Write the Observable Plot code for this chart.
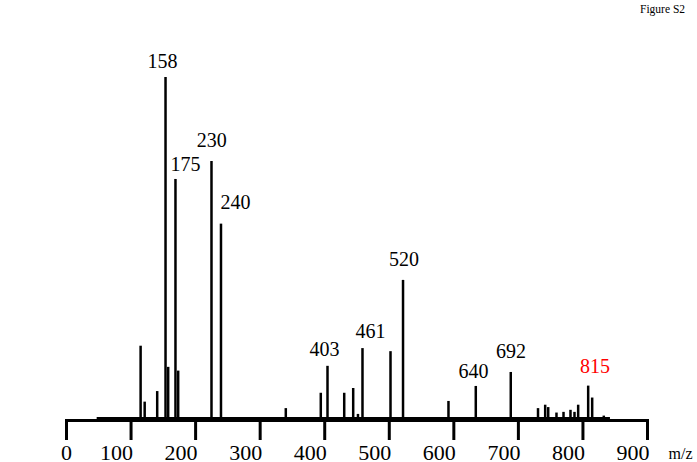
<!DOCTYPE html>
<html>
<head>
<meta charset="utf-8">
<script src="https://cdn.jsdelivr.net/npm/d3@7"></script>
<script src="https://cdn.jsdelivr.net/npm/@observablehq/plot@0.6"></script>
<style>
  html, body { margin: 0; padding: 0; background: #fff; }
  #wrap { position: relative; width: 697px; height: 462px; }
  #fig { position: absolute; left: 640px; top: 3px; font-size: 11.5px; font-family: "Liberation Serif", "Times New Roman", Times, "DejaVu Serif", serif; color: #000; }
  svg text { font-family: "Liberation Serif", "Times New Roman", Times, "DejaVu Serif", serif; }
</style>
</head>
<body>
<div id="wrap"><div id="fig">Figure S2</div></div>
<script>
// Peak positions (m/z) and relative intensities (%)
const peakMz  = [114.8, 121.1, 140.5, 153.4, 157.5, 168.8, 173.0, 224.6, 239.3, 339.7,
                 393.9, 404.3, 430.2, 444.1, 451.5, 458.5, 501.9, 521.3, 591.7, 634.0,
                 688.2, 730.4, 741.5, 746.2, 759.0, 769.9, 780.7, 786.9, 792.6, 808.1,
                 814.3, 832.3];
const peakInt = [21.2, 4.8, 7.9, 100, 15.0, 70.1, 13.9, 75.4, 57.0, 2.9,
                 7.4, 15.3, 7.4, 8.8, 1.2, 20.5, 19.6, 40.5, 5.0, 9.4,
                 13.5, 2.9, 3.9, 3.2, 1.6, 1.8, 2.4, 1.8, 3.9, 9.5,
                 6.0, 0.7];
// Peak annotations: text and anchor point in data units
const labelText = ["158", "175", "230", "240", "403", "461", "520", "640", "692", "815"];
const labelMz   = [148.7, 184.3, 225.1, 261.8, 399.6, 470.9, 522.8, 630.4, 688.5, 818.6];
const labelInt  = [102.9, 72.5, 79.5, 61.3, 18.2, 23.5, 44.6, 12.0, 17.6, 13.2];
const highlighted = "815";
// Spectrum baseline extent (m/z)
const spectrumStart = 47.5, spectrumEnd = 842.6;
// Axis ticks
const tickValues = [0, 100, 200, 300, 400, 500, 600, 700, 800, 900];
const axisLabel = "m/z";

const peaks = peakMz.map((mz, i) => ({mz, int: peakInt[i]}));
const labels = labelText.map((t, i) => ({t, mz: labelMz[i], int: labelInt[i]}));

const serif = "'Liberation Serif', 'Times New Roman', Times, 'DejaVu Serif', serif";
const chart = Plot.plot({
  width: 697,
  height: 462,
  marginLeft: 66,
  marginRight: 50,
  marginTop: 77,
  marginBottom: 42,
  style: {fontFamily: serif, background: "transparent", color: "#000"},
  x: {domain: [0, 900], range: [66, 647]},
  y: {domain: [0, 100], range: [418, 77], axis: null},
  marks: [
    Plot.ruleX(peaks, {x: "mz", y1: 0, y2: "int", strokeWidth: 2.5, stroke: "#000"}),
    Plot.ruleY([0], {x1: spectrumStart, x2: spectrumEnd, strokeWidth: 3, stroke: "#000"}),
    Plot.frame({anchor: "bottom", strokeWidth: 3, stroke: "#000"}),
    Plot.axisX({ticks: tickValues, tickSize: 20, strokeWidth: 3, tickFormat: () => "", label: null}),
    Plot.text(tickValues.filter(v => v > 0), {x: d => d, frameAnchor: "bottom", textAnchor: "end", lineAnchor: "bottom", dx: 2, dy: 39, fontSize: 22, fill: "#000"}),
    Plot.text(tickValues.filter(v => v === 0), {x: d => d, frameAnchor: "bottom", textAnchor: "middle", lineAnchor: "bottom", dy: 39, fontSize: 22, fill: "#000"}),
    Plot.text([axisLabel], {x: 900, frameAnchor: "bottom", textAnchor: "start", lineAnchor: "bottom", dx: 21, dy: 38, fontSize: 16, fill: "#000"}),
    Plot.text(labels, {x: "mz", y: "int", text: "t", lineAnchor: "bottom", fontSize: 20,
                       fill: d => d.t === highlighted ? "#ff0000" : "#000"})
  ]
});
document.getElementById("wrap").prepend(chart);
</script>
</body>
</html>
